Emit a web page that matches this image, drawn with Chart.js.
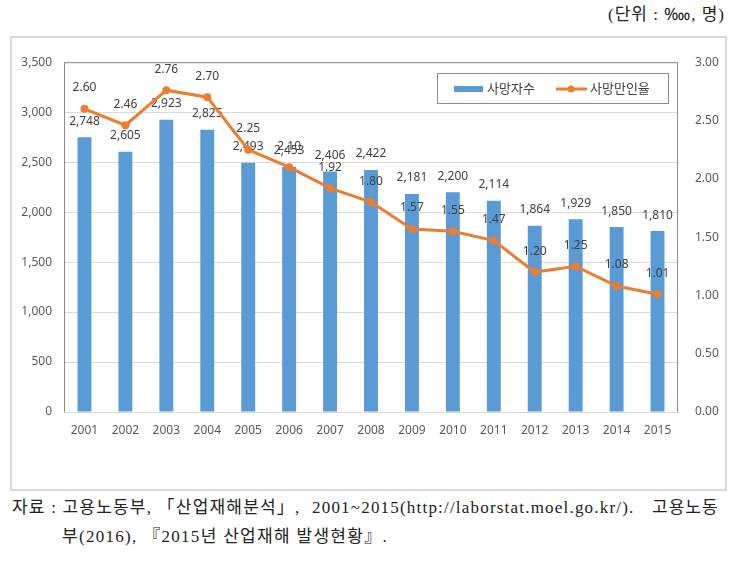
<!DOCTYPE html>
<html>
<head>
<meta charset="utf-8">
<script src="https://cdn.jsdelivr.net/npm/chart.js@4"></script>
<style>
  body { margin: 0; background: #fff; width: 735px; height: 572px; position: relative; overflow: hidden; }
  .serif { position: absolute; font-family: "Liberation Serif", "Noto Sans CJK KR", serif; font-size: 17px; line-height: 20px; color: #222; white-space: nowrap; }
  #box { position: absolute; left: 10px; top: 36px; width: 713px; height: 451px; border: 2px solid #d9d9d9; }
  #wrap { position: absolute; left: 0; top: 0; width: 713px; height: 451px; }
</style>
</head>
<body>
<div class="serif" style="left:608px; top:5px; letter-spacing:1px;">(단위 : ‱, 명)</div>
<div id="box"><div id="wrap"><canvas id="chart"></canvas></div></div>
<div class="serif" style="left:12px; top:498px; letter-spacing:1.2px;">자료 : 고용노동부, 「산업재해분석」,</div>
<div class="serif" style="left:312px; top:498px; letter-spacing:1.2px;">2001~2015(http://laborstat.moel.go.kr/).</div>
<div class="serif" style="left:652px; top:498px; letter-spacing:1px;">고용노동</div>
<div class="serif" style="left:62px; top:527px; letter-spacing:1.3px;">부(2016), 『2015년 산업재해 발생현황』.</div>
<script>
// --- data ---
const years = ['2001', '2002', '2003', '2004', '2005', '2006', '2007', '2008', '2009', '2010', '2011', '2012', '2013', '2014', '2015'];
const deaths = [2748, 2605, 2923, 2825, 2493, 2453, 2406, 2422, 2181, 2200, 2114, 1864, 1929, 1850, 1810];
const rates = [2.60, 2.46, 2.76, 2.70, 2.25, 2.10, 1.92, 1.80, 1.57, 1.55, 1.47, 1.20, 1.25, 1.08, 1.01];
const seriesNames = ['사망자수', '사망만인율'];

const BLUE = '#5b9bd5';
const ORANGE = '#ed7d31';
const FONT = '"Noto Sans", "Noto Sans CJK KR", sans-serif';

// value labels: bar labels right after bars, rate labels after the line
const valueLabels = {
  id: 'valueLabels',
  afterDatasetDraw(chart, args) {
    const ctx = chart.ctx;
    const ds = chart.data.datasets[args.index];
    ctx.save();
    ctx.font = '12px ' + FONT;
    ctx.fillStyle = '#404040';
    ctx.textAlign = 'center';
    ctx.textBaseline = 'middle';
    args.meta.data.forEach((el, i) => {
      if (ds.type === 'bar') ctx.fillText(deaths[i].toLocaleString('en-US'), el.x, el.y - 16);
      else ctx.fillText(rates[i].toFixed(2), el.x, el.y - 21);
    });
    ctx.restore();
  }
};

// plot frame + legend box inside the plot
const frameLegend = {
  id: 'frameLegend',
  beforeDatasetsDraw(chart) {
    const { ctx, chartArea: a } = chart;
    ctx.save();
    ctx.strokeStyle = '#8c8c8c';
    ctx.lineWidth = 1;
    ctx.beginPath();
    ctx.moveTo(a.left + 0.5, a.bottom);
    ctx.lineTo(a.left + 0.5, a.top + 0.5);
    ctx.lineTo(a.right - 0.5, a.top + 0.5);
    ctx.lineTo(a.right - 0.5, a.bottom);
    ctx.stroke();
    ctx.restore();
  },
  afterDraw(chart) {
    const ctx = chart.ctx;
    const x0 = 425, y0 = 35, w = 231, h = 30;
    ctx.save();
    ctx.fillStyle = '#fff';
    ctx.fillRect(x0, y0, w, h);
    ctx.strokeStyle = '#8c8c8c';
    ctx.lineWidth = 1;
    ctx.strokeRect(x0 + 0.5, y0 + 0.5, w, h);
    const cy = y0 + h / 2 + 1;
    ctx.fillStyle = BLUE;
    ctx.fillRect(x0 + 17, cy - 3, 29, 6);
    ctx.font = '13px ' + FONT;
    ctx.fillStyle = '#404040';
    ctx.textBaseline = 'middle';
    ctx.fillText(seriesNames[0], x0 + 50, cy);
    ctx.strokeStyle = ORANGE;
    ctx.lineWidth = 3;
    ctx.beginPath();
    ctx.moveTo(x0 + 119, cy);
    ctx.lineTo(x0 + 150, cy);
    ctx.stroke();
    ctx.fillStyle = ORANGE;
    ctx.beginPath();
    ctx.arc(x0 + 134, cy, 3.5, 0, Math.PI * 2);
    ctx.fill();
    ctx.fillStyle = '#404040';
    ctx.fillText(seriesNames[1], x0 + 153, cy);
    ctx.restore();
  }
};

new Chart(document.getElementById('chart'), {
  data: {
    labels: years,
    datasets: [
      {
        type: 'line',
        label: seriesNames[1],
        data: rates,
        yAxisID: 'y1',
        borderColor: ORANGE,
        backgroundColor: ORANGE,
        borderWidth: 3,
        pointRadius: 4,
        pointBackgroundColor: ORANGE,
        pointBorderWidth: 0,
        tension: 0,
        order: 0
      },
      {
        type: 'bar',
        label: seriesNames[0],
        data: deaths,
        yAxisID: 'y',
        backgroundColor: BLUE,
        barPercentage: 0.34,
        categoryPercentage: 1,
        order: 1
      }
    ]
  },
  plugins: [frameLegend, valueLabels],
  options: {
    responsive: true,
    maintainAspectRatio: false,
    animation: false,
    layout: { padding: { top: 19, left: 0, right: 0, bottom: 0 } },
    plugins: { legend: { display: false }, tooltip: { enabled: false } },
    scales: {
      x: {
        grid: { display: false, drawTicks: false },
        border: { color: '#d9d9d9' },
        ticks: { color: '#595959', font: { size: 12, family: FONT }, padding: 11, maxRotation: 0 },
        afterFit(s) { s.height = 77; }
      },
      y: {
        position: 'left',
        min: 0, max: 3500,
        ticks: {
          stepSize: 500, color: '#595959', padding: 12,
          font: { size: 12, family: FONT },
          callback: v => v.toLocaleString('en-US')
        },
        grid: { color: '#d9d9d9', drawTicks: false },
        border: { display: false },
        afterFit(s) { s.width = 52; }
      },
      y1: {
        position: 'right',
        min: 0, max: 3,
        ticks: {
          stepSize: 0.5, color: '#595959', padding: 17,
          font: { size: 12, family: FONT },
          callback: v => v.toFixed(2)
        },
        grid: { display: false, drawTicks: false },
        border: { display: false },
        afterFit(s) { s.width = 47; }
      }
    }
  }
});
</script>
</body>
</html>
